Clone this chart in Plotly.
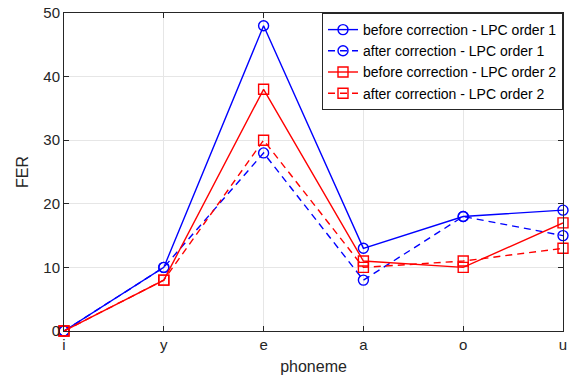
import plotly.graph_objects as go

phonemes = ["i", "y", "e", "a", "o", "u"]
before_lpc1 = [0, 10, 48, 13, 18, 19]
after_lpc1 = [0, 10, 28, 8, 18, 15]
before_lpc2 = [0, 8, 38, 11, 10, 17]
after_lpc2 = [0, 8, 30, 10, 11, 13]

xs = list(range(len(phonemes)))
fig = go.Figure()
series = [
    ("before correction - LPC order 1", before_lpc1, "#0000ff", "solid", "circle-open"),
    ("after correction - LPC order 1", after_lpc1, "#0000ff", "7px,5px", "circle-open"),
    ("before correction - LPC order 2", before_lpc2, "#ff0000", "solid", "square-open"),
    ("after correction - LPC order 2", after_lpc2, "#ff0000", "7px,5px", "square-open"),
]
for name, ys, col, dash, sym in series:
    fig.add_trace(go.Scatter(
        x=xs, y=ys, name=name, mode="lines+markers",
        line=dict(color=col, width=1.4, dash=dash),
        marker=dict(symbol=sym, size=10, color=col, line=dict(width=1.4, color=col)),
        cliponaxis=False,
    ))

axcol = "#262626"
fig.update_layout(
    width=571, height=381,
    margin=dict(l=64, r=4, t=13, b=50),
    paper_bgcolor="white", plot_bgcolor="white",
    font=dict(family="Liberation Sans, Arial, sans-serif", size=15, color=axcol),
    showlegend=True,
    legend=dict(x=1, y=1, xanchor="right", yanchor="top",
                bgcolor="white", bordercolor="#262626", borderwidth=1,
                font=dict(size=14, color="#000000"), tracegroupgap=0,
                itemwidth=30),
    xaxis=dict(range=[0, 5], tickvals=xs, ticktext=phonemes,
               ticklabeloverflow="allow",
               showgrid=True, gridcolor="#e6e6e6", gridwidth=1,
               showline=True, linecolor=axcol, linewidth=1, mirror="ticks",
               ticks="inside", ticklen=5, tickcolor=axcol, zeroline=False,
               title=dict(text="phoneme", font=dict(size=16), standoff=8),
               tickfont=dict(size=15)),
    yaxis=dict(range=[0, 50], tickvals=[0, 10, 20, 30, 40, 50],
               showgrid=True, gridcolor="#e6e6e6", gridwidth=1,
               showline=True, linecolor=axcol, linewidth=1, mirror="ticks",
               ticks="inside", ticklen=5, tickcolor=axcol, zeroline=False,
               title=dict(text="FER", font=dict(size=16), standoff=10),
               tickfont=dict(size=15)),
)
fig.write_html("out.html")
